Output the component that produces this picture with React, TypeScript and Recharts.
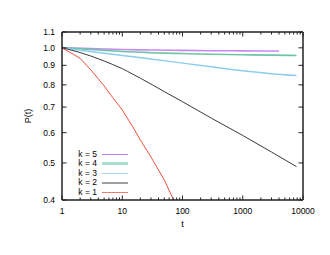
import { LineChart, Line, XAxis, YAxis, Legend } from 'recharts';

// survival curves P(t), one list of times and one of values per k
const k1Times = [1, 2, 3, 4, 5, 7, 10, 15, 20, 30, 50, 70, 100];
const k1Values = [1.0, 0.939, 0.876, 0.83, 0.795, 0.74, 0.688, 0.621, 0.574, 0.518, 0.451, 0.402, 0.365];

const k2Times = [1, 2, 3, 5, 7, 10, 15, 20, 50, 100, 300, 1000, 3000, 7800];
const k2Values = [1.0, 0.972, 0.952, 0.924, 0.904, 0.882, 0.853, 0.833, 0.768, 0.723, 0.655, 0.59, 0.534, 0.489];

const k3Times = [1, 2, 3, 5, 10, 30, 100, 300, 1000, 3000, 7800];
const k3Values = [1.0, 0.986, 0.978, 0.968, 0.955, 0.935, 0.912, 0.892, 0.871, 0.856, 0.846];

const k4Times = [1, 2, 3, 5, 10, 30, 100, 300, 1000, 3000, 7800];
const k4Values = [1.0, 0.995, 0.99, 0.985, 0.978, 0.971, 0.966, 0.962, 0.959, 0.957, 0.955];

const k5Times = [1, 3, 10, 30, 100, 300, 1000, 4000];
const k5Values = [1.0, 0.996, 0.99, 0.987, 0.985, 0.983, 0.982, 0.981];

const xMajorTicks = [1, 10, 100, 1000, 10000];
const yTicks = [0.4, 0.5, 0.6, 0.7, 0.8, 0.9, 1.0, 1.1];

const FONT = '"Liberation Sans", Arial, sans-serif';
const FRAME = '#222';

// minor ticks 2..9 inside every decade
const xAllTicks: number[] = [];
xMajorTicks.forEach((m, i) => {
  xAllTicks.push(m);
  if (i < xMajorTicks.length - 1) {
    for (let j = 2; j <= 9; j++) xAllTicks.push(m * j);
  }
});

const toRows = (times: number[], values: number[]) =>
  times.map((t, i) => ({ t, p: values[i] }));

const series = [
  { name: 'k = 5', data: toRows(k5Times, k5Values), color: '#c58af0', width: 1.6, curve: 'monotone', legendColor: '#c27ced', legendWidth: 1.5 },
  { name: 'k = 4', data: toRows(k4Times, k4Values), color: '#6dc4a6', width: 1.6, curve: 'monotone', legendColor: '#a6dfcc', legendWidth: 3 },
  { name: 'k = 3', data: toRows(k3Times, k3Values), color: '#8ccdef', width: 1.5, curve: 'monotone', legendColor: '#a5d6ef', legendWidth: 1.5 },
  { name: 'k = 2', data: toRows(k2Times, k2Values), color: '#3a3a3a', width: 1, curve: 'monotone', legendColor: '#a0a0a0', legendWidth: 2 },
  { name: 'k = 1', data: toRows(k1Times, k1Values), color: '#f0503a', width: 1, curve: 'linear', legendColor: '#ef7a6c', legendWidth: 1.5 },
];

const BottomTick = (props: any) => {
  const { x, y, payload } = props;
  const major = xMajorTicks.includes(payload.value);
  return (
    <g>
      <line x1={x} x2={x} y1={y} y2={y - (major ? 4.5 : 2.5)} stroke={FRAME} />
      {major && (
        <text x={x} y={y + 14} textAnchor="middle" fontSize={8.5} fontFamily={FONT} fill="#000">
          {payload.value}
        </text>
      )}
    </g>
  );
};

const TopTick = (props: any) => {
  const { x, y, payload } = props;
  const major = xMajorTicks.includes(payload.value);
  return <line x1={x} x2={x} y1={y} y2={y + (major ? 4.5 : 2.5)} stroke={FRAME} />;
};

const LeftTick = (props: any) => {
  const { x, y, payload } = props;
  return (
    <g>
      <line x1={x} x2={x + 4.5} y1={y} y2={y} stroke={FRAME} />
      <text x={x - 7} y={y + 3} textAnchor="end" fontSize={8.5} fontFamily={FONT} fill="#000">
        {payload.value.toFixed(1)}
      </text>
    </g>
  );
};

const RightTick = (props: any) => {
  const { x, y } = props;
  return <line x1={x} x2={x - 4.5} y1={y} y2={y} stroke={FRAME} />;
};

const renderLegend = () => (
  <div style={{ fontFamily: FONT, fontSize: 8.5, color: '#000' }}>
    {series.map((s) => (
      <div key={s.name} style={{ display: 'flex', alignItems: 'center', height: 9.5 }}>
        <span style={{ width: 37, textAlign: 'right', lineHeight: '9.5px' }}>{s.name}</span>
        <span style={{ width: 26, marginLeft: 5, height: s.legendWidth, background: s.legendColor }} />
      </div>
    ))}
  </div>
);

export default function App() {
  return (
    <div style={{ position: 'absolute', left: 0, top: 0, width: 330, height: 255, background: '#fff' }}>
      <LineChart width={330} height={255} margin={{ top: 0, right: 0, bottom: 0, left: 0 }}>
        <XAxis
          xAxisId="b"
          dataKey="t"
          type="number"
          scale="log"
          domain={[1, 10000]}
          allowDataOverflow
          ticks={xAllTicks}
          interval={0}
          height={55}
          tickSize={0}
          tickMargin={0}
          tickLine={false}
          tick={<BottomTick />}
          axisLine={{ stroke: FRAME, strokeWidth: 1.5 }}
          label={{ value: 't', position: 'insideTop', offset: 21, fontSize: 9, fontFamily: FONT, fill: '#000' }}
        />
        <XAxis
          xAxisId="top"
          orientation="top"
          dataKey="t"
          type="number"
          scale="log"
          domain={[1, 10000]}
          allowDataOverflow
          ticks={xAllTicks}
          interval={0}
          height={32}
          tickSize={0}
          tickMargin={0}
          tickLine={false}
          tick={<TopTick />}
          axisLine={{ stroke: FRAME, strokeWidth: 1.5 }}
        />
        <YAxis
          yAxisId="l"
          type="number"
          scale="log"
          domain={[0.4, 1.1]}
          allowDataOverflow
          ticks={yTicks}
          interval={0}
          width={62}
          tickSize={0}
          tickMargin={0}
          tickLine={false}
          tick={<LeftTick />}
          axisLine={{ stroke: FRAME, strokeWidth: 1.5 }}
          label={{
            value: 'P(t)',
            angle: -90,
            position: 'insideLeft',
            offset: 28,
            fontSize: 9,
            fontFamily: FONT,
            fill: '#000',
            style: { textAnchor: 'middle' },
          }}
        />
        <YAxis
          yAxisId="r"
          orientation="right"
          type="number"
          scale="log"
          domain={[0.4, 1.1]}
          allowDataOverflow
          ticks={yTicks}
          interval={0}
          width={27}
          tickSize={0}
          tickMargin={0}
          tickLine={false}
          tick={<RightTick />}
          axisLine={{ stroke: FRAME, strokeWidth: 1.5 }}
        />
        <Legend
          content={renderLegend}
          layout="horizontal"
          verticalAlign="middle"
          align="center"
          wrapperStyle={{ left: 60, top: 149.5, width: 80, height: 48 }}
        />
        {series.map((s) => (
          <Line
            key={s.name}
            xAxisId="b"
            yAxisId="l"
            data={s.data}
            dataKey="p"
            name={s.name}
            type={s.curve as any}
            stroke={s.color}
            strokeWidth={s.width}
            dot={false}
            activeDot={false}
            isAnimationActive={false}
          />
        ))}
      </LineChart>
    </div>
  );
}
